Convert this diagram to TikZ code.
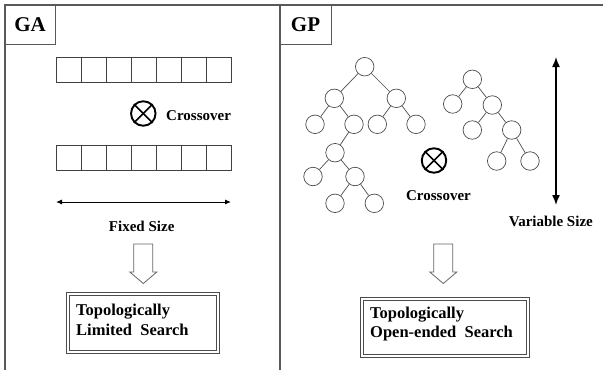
\documentclass[tikz,border=0pt]{standalone}
\usepackage{fontspec}
\setmainfont{Liberation Serif}
\usetikzlibrary{arrows.meta}
\begin{document}
\begin{tikzpicture}[x=1pt,y=-1pt,
  frame/.style={draw=black!65, line width=1.1pt},
  cell/.style={draw=black!75, line width=0.8pt, minimum width=25pt, minimum height=24.5pt, inner sep=0pt},
  tn/.style={circle, draw=black!70, line width=0.7pt, minimum size=18.5pt, inner sep=0pt},
  te/.style={draw=black!70, line width=0.7pt},
  lbl/.style={font=\fontsize{15}{18}\selectfont\bfseries, inner sep=0pt},
  ttl/.style={font=\fontsize{21}{24}\selectfont\bfseries, inner sep=0pt},
  res/.style={font=\fontsize{16.5}{20}\selectfont\bfseries, inner sep=0pt},
  xsym/.style={circle, draw=black, line width=1.9pt, minimum size=24.5pt, inner sep=0pt},
  xline/.style={draw=black, line width=1.6pt},
  hollow/.style={draw=black!60, line width=0.8pt, fill=white, line join=miter},
  rbox/.style={draw=black!70, line width=0.9pt, inner sep=0pt},
  tip/.style={-{Latex[length=6pt,width=5pt]}}
]
\useasboundingbox (0,0) rectangle (603,370);

% frames
\draw[frame] (5,370) -- (5,5) -- (603,5);
\draw[frame] (280,5) -- (280,370);
\node[ttl, draw=black!65, line width=1pt, minimum width=50pt, minimum height=39pt] (ga) at (30,24.5) {GA};
\node[ttl, draw=black!65, line width=1pt, minimum width=51pt, minimum height=39pt] (gp) at (305.5,24.5) {GP};

% GA chromosomes
\foreach \i in {0,...,6} {
  \node[cell] (ca\i) at (68.5+25*\i,69.75) {};
  \node[cell] (cb\i) at (68.5+25*\i,158) {};
}

% GA crossover
\node[xsym] (xa) at (143.3,113.5) {};
\draw[xline] (xa.45) -- (xa.225);
\draw[xline] (xa.135) -- (xa.315);
\node[lbl, anchor=base west] (xat) at (166,120) {Crossover};

% fixed size
\coordinate (fl) at (56,202);
\coordinate (fr) at (231,202);
\draw[line width=0.9pt, {Latex[length=6pt,width=5pt]}-{Latex[length=6pt,width=5pt]}] (fl) -- (fr);
\node[lbl, anchor=base] (fst) at (141.7,231) {Fixed Size};

% GA hollow arrow
\draw[hollow] (133.8,244) -- (152.8,244) -- (152.8,272) -- (156.8,272) -- (143.3,283.5) -- (129.8,272) -- (133.8,272) -- cycle;

% GA result box
\node[rbox, minimum width=153pt, minimum height=61pt] (rga) at (142.5,322.5) {};
\draw[rbox] ([shift={(3.4,3.4)}]rga.north west) rectangle ([shift={(-3.4,-3.4)}]rga.south east);
\node[res, anchor=base west] (tga1) at (76,315) {Topologically};
\node[res, anchor=base west] (tga2) at (76,335) {Limited\ \ Search};

% GP tree 1
\node[tn] (a1) at (364.7,66.7) {};
\node[tn] (a2) at (334.3,98.3) {};
\node[tn] (a3) at (396.3,98.3) {};
\node[tn] (a4) at (315,124.3) {};
\node[tn] (a5) at (354,124.3) {};
\node[tn] (a6) at (377.3,124.3) {};
\node[tn] (a7) at (416,124.3) {};
\node[tn] (a8) at (335,152.7) {};
\node[tn] (a9) at (313,176.5) {};
\node[tn] (a10) at (355,176.5) {};
\node[tn] (a11) at (335,203.3) {};
\node[tn] (a12) at (374.3,203.3) {};
\draw[te] (a1) -- (a2);
\draw[te] (a1) -- (a3);
\draw[te] (a2) -- (a4);
\draw[te] (a2) -- (a5);
\draw[te] (a3) -- (a6);
\draw[te] (a3) -- (a7);
\draw[te] (a5) -- (a8);
\draw[te] (a8) -- (a9);
\draw[te] (a8) -- (a10);
\draw[te] (a10) -- (a11);
\draw[te] (a10) -- (a12);

% GP tree 2
\node[tn] (b1) at (472.3,79.3) {};
\node[tn] (b2) at (452.7,104) {};
\node[tn] (b3) at (492.3,105) {};
\node[tn] (b4) at (472.3,130) {};
\node[tn] (b5) at (511.7,130) {};
\node[tn] (b6) at (496.7,161) {};
\node[tn] (b7) at (530,161) {};
\draw[te] (b1) -- (b2);
\draw[te] (b1) -- (b3);
\draw[te] (b3) -- (b4);
\draw[te] (b3) -- (b5);
\draw[te] (b5) -- (b6);
\draw[te] (b5) -- (b7);

% GP crossover
\node[xsym] (xb) at (434,160.5) {};
\draw[xline] (xb.45) -- (xb.225);
\draw[xline] (xb.135) -- (xb.315);
\node[lbl, anchor=base] (xbt) at (438.5,200) {Crossover};

% variable size
\coordinate (vt) at (556,57);
\coordinate (vb) at (556,205);
\draw[line width=1.5pt, {Latex[length=10pt,width=8pt]}-{Latex[length=10pt,width=8pt]}] (vt) -- (vb);
\node[lbl, anchor=base] (vst) at (550.8,226.7) {Variable Size};

% GP hollow arrow
\draw[hollow] (433.8,244) -- (452.8,244) -- (452.8,272) -- (456.8,272) -- (443.3,283.5) -- (429.8,272) -- (433.8,272) -- cycle;

% GP result box
\node[rbox, minimum width=169pt, minimum height=60pt] (rgp) at (444.5,327) {};
\draw[rbox] ([shift={(3.4,3.4)}]rgp.north west) rectangle ([shift={(-3.4,-3.4)}]rgp.south east);
\node[res, anchor=base west] (tgp1) at (370,318.3) {Topologically};
\node[res, anchor=base west] (tgp2) at (370,337.7) {Open-ended\ \ Search};
\end{tikzpicture}
\end{document}
